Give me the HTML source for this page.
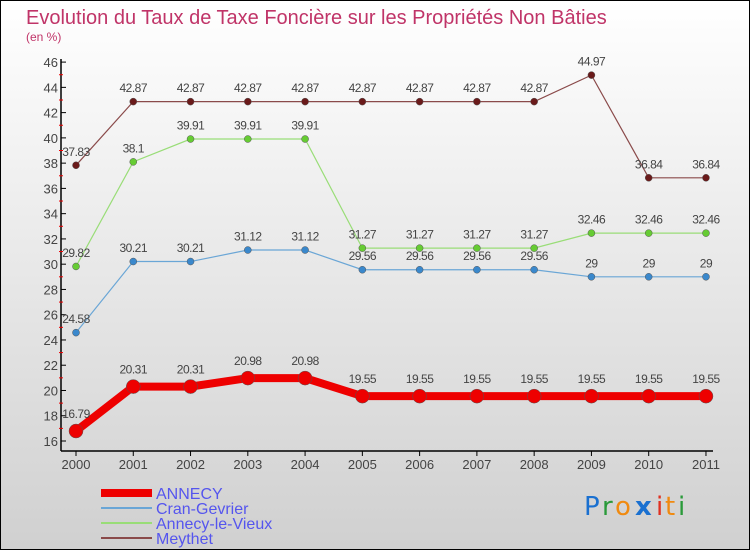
<!DOCTYPE html>
<html><head><meta charset="utf-8"><style>
body{margin:0}
#c{width:748px;height:548px;border:1px solid #000;position:relative;background:linear-gradient(#ffffff,#d0d0d0);font-family:"Liberation Sans",sans-serif;overflow:hidden}
</style></head><body>
<div id="c">
<svg id="s" width="748" height="548">
<text x="25" y="23" font-size="20" fill="#c03468">Evolution du Taux de Taxe Foncière sur les Propriétés Non Bâties</text>
<text x="25" y="40" font-size="12" fill="#c03468">(en %)</text>
<g id="axes"></g><g id="series"></g><g id="legend"></g>
<g font-size="26" font-family="'DejaVu Sans',sans-serif">
<text x="583" y="514" fill="#1a70d0">P</text><text x="601" y="514" fill="#2a9a3a">r</text><text x="614" y="514" fill="#f08a10">o</text><text x="634" y="514" fill="#1a70d0" font-weight="bold">x</text><text x="655" y="514" fill="#e03020">i</text><text x="664" y="514" fill="#f08a10">t</text><text x="677" y="514" fill="#2a9a3a">i</text>
</g>
</svg></div>
<script>
const years=[2000,2001,2002,2003,2004,2005,2006,2007,2008,2009,2010,2011];
const yTicks=[16,18,20,22,24,26,28,30,32,34,36,38,40,42,44,46];
const annecy=[16.79,20.31,20.31,20.98,20.98,19.55,19.55,19.55,19.55,19.55,19.55,19.55];
const cran=[24.58,30.21,30.21,31.12,31.12,29.56,29.56,29.56,29.56,29,29,29];
const alv=[29.82,38.1,39.91,39.91,39.91,31.27,31.27,31.27,31.27,32.46,32.46,32.46];
const meythet=[37.83,42.87,42.87,42.87,42.87,42.87,42.87,42.87,42.87,44.97,36.84,36.84];
const NS="http://www.w3.org/2000/svg";
const X=i=>75+i*57.27;
const Y=v=>440-(v-16)*12.63;
function mk(t,a,p){const e=document.createElementNS(NS,t);for(const k in a)e.setAttribute(k,a[k]);p.appendChild(e);return e;}
const ax=document.getElementById('axes');
let e=mk('line',{x1:60,y1:58,x2:60,y2:450,stroke:'#000','stroke-width':1.5},ax);

e=mk('line',{x1:60,y1:450,x2:712,y2:450,stroke:'#000','stroke-width':1.5},ax);

yTicks.forEach((v,i)=>{
 mk('line',{x1:60,y1:Y(v),x2:65,y2:Y(v),stroke:'#000'},ax);
 if(i<yTicks.length-1)mk('line',{x1:58,y1:Y(v+1),x2:62,y2:Y(v+1),stroke:'#e00'},ax);
 const t=mk('text',{x:57,y:Y(v)+5,'font-size':13,'text-anchor':'end',fill:'#444'},ax);t.textContent=v;
 
});
years.forEach((y,i)=>{
 mk('line',{x1:X(i),y1:450,x2:X(i),y2:455,stroke:'#000'},ax);
 const t=mk('text',{x:X(i),y:468,'font-size':13,'text-anchor':'middle',fill:'#444'},ax);t.textContent=y;
 
});
const sg=document.getElementById('series');
const defs=[
 {d:meythet,c:'#6a1a1a',lc:'#8a4a4a',w:1.2,r:3.5,n:'meythet'},
 {d:alv,c:'#66cc33',lc:'#99dd77',w:1.2,r:3.5,n:'annecy-le-vieux'},
 {d:cran,c:'#3a88cc',lc:'#6aa6d6',w:1.2,r:3.5,n:'cran-gevrier'},
 {d:annecy,c:'#ee0000',lc:'#ee0000',w:8,r:7,n:'annecy'}];
defs.forEach(s=>{
 const g=mk('g',{},sg);
 
 const l=mk('polyline',{points:s.d.map((v,i)=>X(i)+','+Y(v)).join(' '),fill:'none',stroke:s.lc,'stroke-width':s.w},g);
 
 s.d.forEach((v,i)=>{
  const p=mk('circle',{cx:X(i),cy:Y(v),r:s.r,fill:s.c,stroke:'#555','stroke-width':0.5},g);
  
  const t=mk('text',{x:X(i),y:Y(v)-(s.r+6),'font-size':12,'text-anchor':'middle',fill:'#444','letter-spacing':'-0.5'},g);
  t.textContent=v;
  
 });
});
const lg=document.getElementById('legend');
[['ANNECY','#ee0000',8],['Cran-Gevrier','#6aa6d6',2],['Annecy-le-Vieux','#99dd77',2],['Meythet','#8a4a4a',2]].forEach((it,i)=>{
 const y=492+i*15;
 const g=mk('g',{},lg);
 
 mk('line',{x1:100,y1:y,x2:151,y2:y,stroke:it[1],'stroke-width':it[2]},g);
 const t=mk('text',{x:155,y:y+6,'font-size':16,fill:'#5555ee'},g);t.textContent=it[0];
});
</script>
</body></html>
